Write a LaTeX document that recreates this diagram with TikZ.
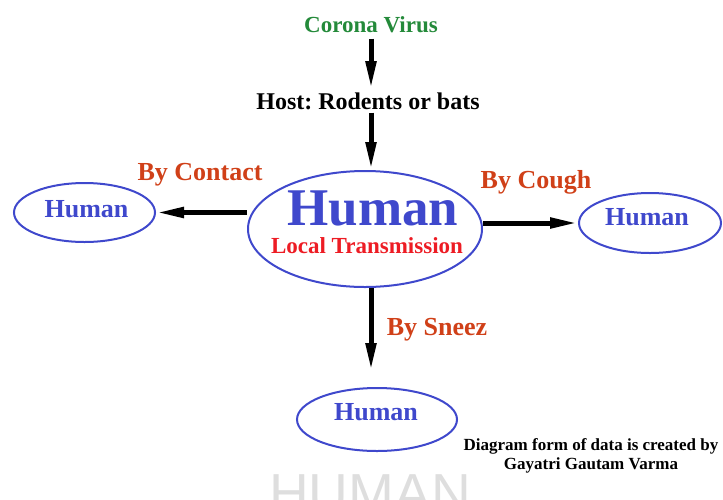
\documentclass[tikz,border=0pt]{standalone}
\usepackage{fontspec}
\setmainfont{Liberation Serif}
\newfontfamily\markfont{Liberation Sans}
\usetikzlibrary{shapes.geometric,arrows.meta}
\frenchspacing

\definecolor{virusgreen}{RGB}{36,138,58}
\definecolor{humanblue}{RGB}{63,72,204}
\definecolor{transred}{RGB}{237,28,36}
\definecolor{routered}{RGB}{208,64,24}
\definecolor{markgray}{RGB}{222,222,222}

\tikzset{
  blob/.style={draw=humanblue, line width=2pt, ellipse, inner sep=0pt},
  blobtext/.style={anchor=base, text=humanblue, font=\bfseries\fontsize{26}{30}\selectfont},
  route/.style={anchor=base, text=routered, font=\bfseries\fontsize{26}{30}\selectfont},
  spread/.style={line width=5pt, -{Triangle[length=28pt,width=10pt]}},
}

\begin{document}
\begin{tikzpicture}[x=1pt,y=-1pt]
\useasboundingbox (0,0) rectangle (723,499);
\clip (0,0) rectangle (723,499);

% source and host
\node[anchor=base, inner sep=3pt, text=virusgreen, font=\bfseries\fontsize{23}{27}\selectfont] (virus) at (371,32) {Corona Virus};
\node[anchor=base, inner sep=3pt, font=\bfseries\fontsize{24}{28}\selectfont] (host) at (368,109) {Host: Rodents or bats};

% main human
\node[blob, minimum width=234pt, minimum height=116pt] (hmain) at (365,229) {};
\node[anchor=base, text=humanblue, font=\bfseries\fontsize{53}{56}\selectfont] (mainword) at (373,225) {Human};
\node[anchor=base, text=transred, font=\bfseries\fontsize{23}{27}\selectfont] (mainsub) at (367,253) {Local Transmission};

% other humans
\node[blob, minimum width=141pt, minimum height=59pt] (hleft) at (84.5,212.5) {};
\node[blobtext] (tleft) at (86.5,217) {Human};

\node[blob, minimum width=142pt, minimum height=60pt] (hright) at (650,223) {};
\node[blobtext] (tright) at (647,225) {Human};

\node[blob, minimum width=160pt, minimum height=63pt] (hbottom) at (377,419.5) {};
\node[blobtext] (tbottom) at (376,420) {Human};

% routes
\node[route] (bycontact) at (200,180) {By Contact};
\node[route] (bycough) at (536,188) {By Cough};
\node[route] (bysneez) at (437,335) {By Sneez};

\draw[spread, shorten <=3pt] (virus.south) -- (virus.south |- host.north);
\draw[spread] (virus.south |- host.south) -- (virus.south |- hmain.north);
\draw[spread] (hmain.west |- hleft) -- (hleft.east);
\draw[spread] (hmain.east |- hright) -- (hright.west);
\draw[spread, shorten >=16pt] (virus.south |- hmain.south) -- (virus.south |- hbottom.north);

% credit and mark
\node[align=center, font=\bfseries\fontsize{17}{19}\selectfont] (credit) at (591,456) {Diagram form of data is created by\\Gayatri Gautam Varma};
\node[anchor=base, text=markgray, font=\markfont\fontsize{55}{60}\selectfont] (mark) at (370,512) {HUMAN};
\end{tikzpicture}
\end{document}
